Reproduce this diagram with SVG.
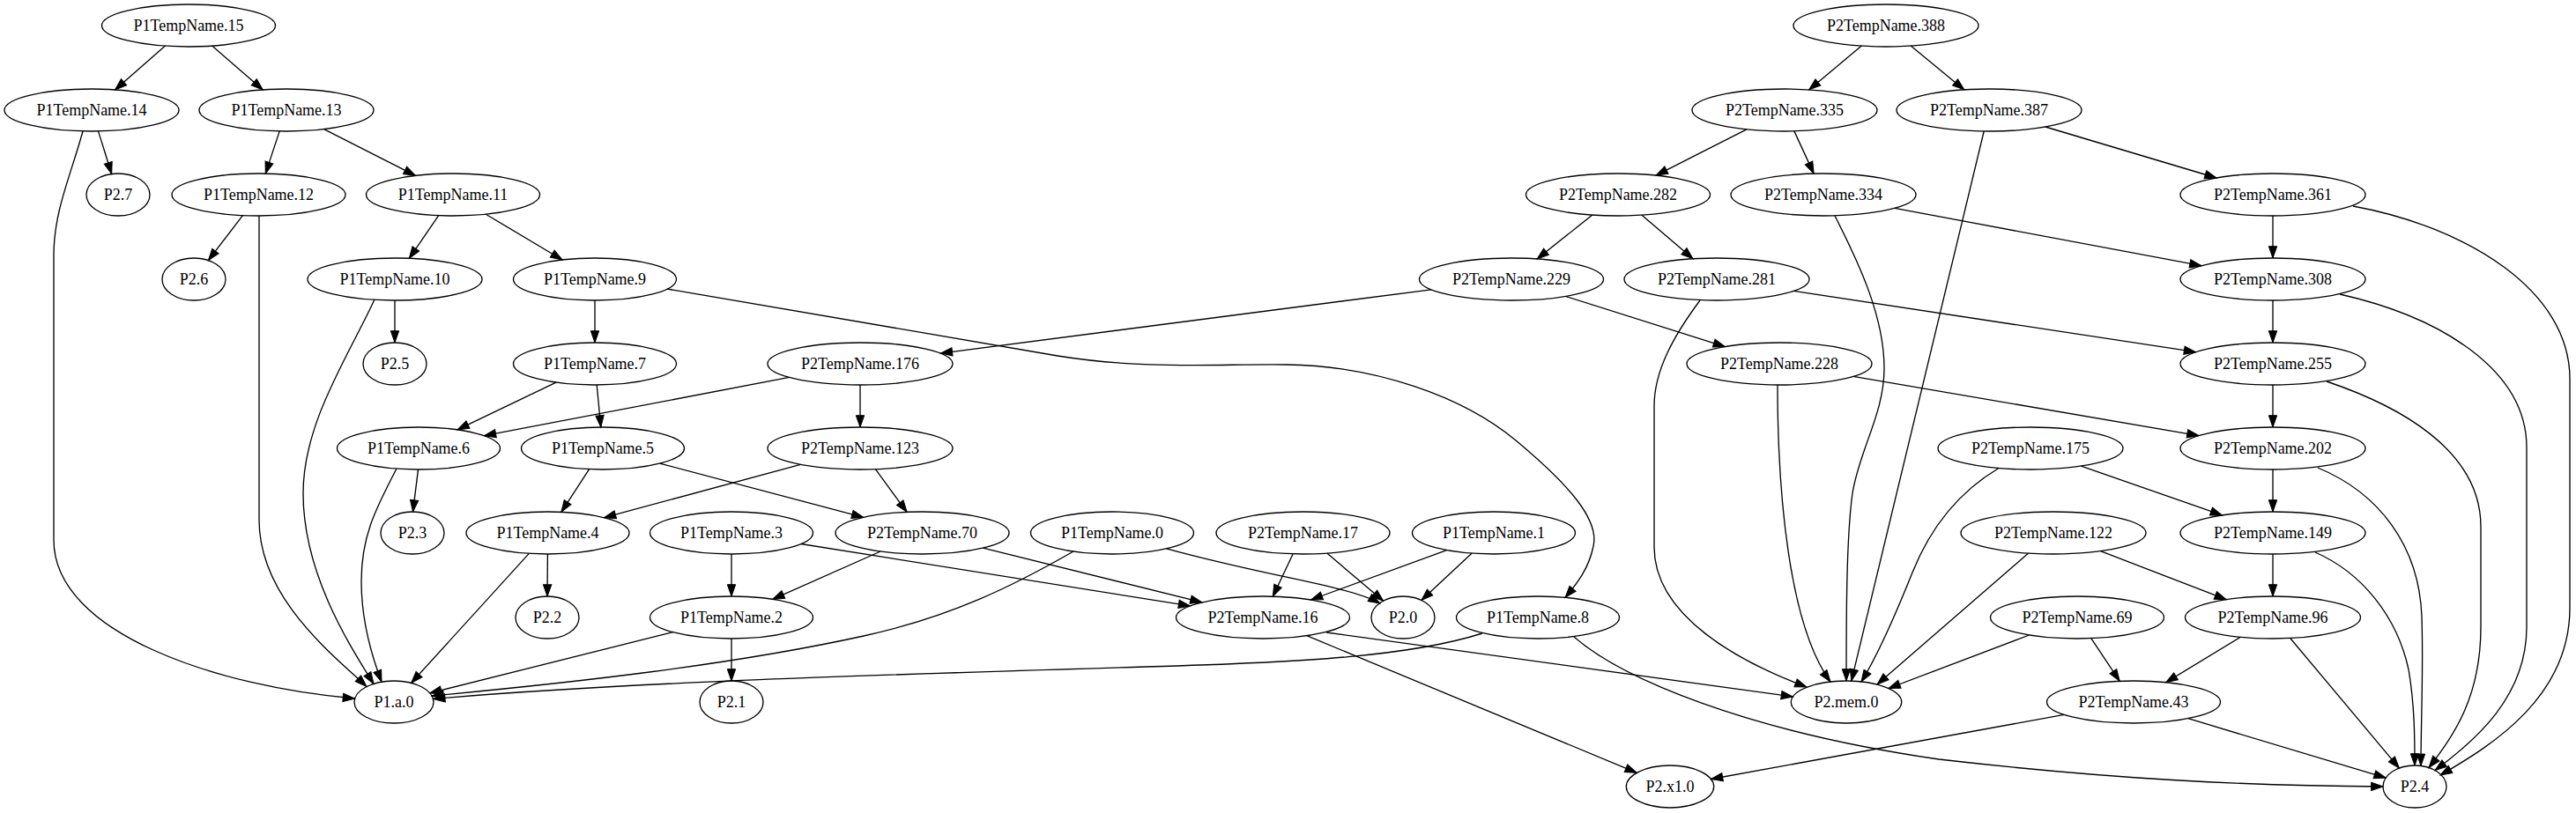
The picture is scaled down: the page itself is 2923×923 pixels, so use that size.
<svg xmlns="http://www.w3.org/2000/svg" width="2923" height="923" viewBox="0 0 2923 923">
<style>
.node ellipse{fill:none;stroke:#000;stroke-width:1.33}
.node text{font-family:"Liberation Serif","Times New Roman",serif;font-size:18px;text-anchor:middle;fill:#000}
#edges path{fill:none;stroke:#000;stroke-width:1.33;marker-end:url(#ah)}
</style>
<defs>
<marker id="ah" markerUnits="userSpaceOnUse" markerWidth="15" markerHeight="11" refX="13.3" refY="4.67" orient="auto" overflow="visible">
<path d="M0,0 L13.3,4.67 L0,9.33 Z" fill="#000" stroke="#000" stroke-width="1"/>
</marker>
</defs>
<rect x="0" y="0" width="2923" height="923" fill="#fff"/>
<g id="edges">
<path d="M187.5,52.1 L130.5,101.9"/>
<path d="M240.7,52.1 L298.3,101.9"/>
<path d="M111.5,148.9 L126.7,197.5"/>
<path d="M94,149 C80,200 61,240 61,290 L61,613 C61,720 250,780 402.5,793"/>
<path d="M317.2,148.9 L301.3,197.1"/>
<path d="M367.6,146.7 L471.4,199.4"/>
<path d="M275.4,244.6 L236.4,295.6"/>
<path d="M294,245 L294,590 C294,680 380,745 416,779.5"/>
<path d="M497.7,244.7 L464.3,293.3"/>
<path d="M551.3,243.2 L638.1,295"/>
<path d="M448,341 L448,389"/>
<path d="M425,340 C395,405 344,480 344,560 C344,650 395,730 424,776.4"/>
<path d="M675,341 L675,389"/>
<path d="M757,328 L1200,404 C1300,420 1380,413 1460,414 C1560,415 1660,450 1720,500 C1780,550 1815,590 1808,620 C1803,645 1790,662 1776,678.4"/>
<path d="M631,434.1 L519,487.9"/>
<path d="M677.2,437 L681.8,485"/>
<path d="M895.5,428.4 L549.4,494.7"/>
<path d="M976,437 L976,485"/>
<path d="M474.5,533 L468.5,581"/>
<path d="M450,532 C425,580 410,610 410,660 C410,700 420,740 433,774.2"/>
<path d="M668.6,532.7 L636.9,581.3"/>
<path d="M748.7,526.1 L979.8,587.3"/>
<path d="M908.4,527.3 L685.5,587.7"/>
<path d="M993.4,532.7 L1029.1,581.4"/>
<path d="M621.4,629 L621,677"/>
<path d="M600.3,628.4 L466.6,775.4"/>
<path d="M830,629 L830,677"/>
<path d="M908.8,617.5 L1350.6,687.9"/>
<path d="M999.1,626 L876.7,680.3"/>
<path d="M1115.5,622.1 L1364,683.9"/>
<path d="M1218,626 C1150,665 1080,700 980,722 C830,755 650,775 490,790"/>
<path d="M1323.6,622.9 C1440,655 1530,665 1566,685"/>
<path d="M1467.2,628.8 L1444.3,677.2"/>
<path d="M1505.8,628.1 L1569.7,682.2"/>
<path d="M1641.5,624.6 L1487.5,681"/>
<path d="M1670.2,628.1 L1612.9,681.5"/>
<path d="M763.5,717.7 L487.7,786.8"/>
<path d="M830,725 L830,773"/>
<path d="M1482.8,721.7 L1857.3,877.3"/>
<path d="M1505,718 L2034.5,791"/>
<path d="M1682,719 C1600,745 1480,752 1300,757 C1000,766 700,775 491.7,793.5"/>
<path d="M1786,723 C1840,770 1980,830 2200,862 C2400,885 2550,892 2704,893"/>
<path d="M2112.3,52.1 L2052.7,101.9"/>
<path d="M2168.2,52.1 L2228.8,101.9"/>
<path d="M1981.9,146.9 L1879.1,199.1"/>
<path d="M2035.9,148.9 L2058.1,197.1"/>
<path d="M2251.2,149 L2100.8,773.1"/>
<path d="M2320.9,144 L2515.1,202"/>
<path d="M1806.9,244 L1744.1,294"/>
<path d="M1863,244.2 L1921,293.8"/>
<path d="M2082,245 C2110,300 2138,360 2138,418 C2138,470 2110,510 2102,560 C2095,610 2095,700 2095,773"/>
<path d="M2150,236.3 L2498,301.7"/>
<path d="M2579,245 L2579,293"/>
<path d="M2670,234 C2800,258 2916,330 2916,430 L2916,690 C2916,790 2830,845 2769,880"/>
<path d="M1624,328.8 L1067.3,401.1"/>
<path d="M1776.5,336.4 L1957.4,393.6"/>
<path d="M1929,341 C1900,380 1877,420 1877,461 L1877,621 C1877,700 1975,752 2050,780"/>
<path d="M2035.4,330.3 L2491.6,399.7"/>
<path d="M2579,341 L2579,389"/>
<path d="M2655,334 C2770,360 2867,420 2867,508 L2867,712 C2867,790 2810,840 2763,874.5"/>
<path d="M2017,437 C2017,560 2030,710 2077,774"/>
<path d="M2103,427.4 L2495,494.6"/>
<path d="M2579,437 L2579,485"/>
<path d="M2640,433 C2720,460 2815,510 2815,598 L2815,712 C2815,790 2785,835 2756,871.5"/>
<path d="M2579,533 L2579,581"/>
<path d="M2630,531 C2700,560 2745,620 2748,700 C2750,760 2747,820 2747,869.4"/>
<path d="M2268,531.5 C2220,560 2190,600 2170,650 C2150,700 2130,745 2112,774"/>
<path d="M2361.5,529.1 L2521.5,584.9"/>
<path d="M2579,629 L2579,677"/>
<path d="M2627,627 C2680,650 2720,700 2733,760 C2740,800 2740,840 2740,869"/>
<path d="M2301.7,628.1 L2130,777"/>
<path d="M2383.5,625.6 L2526.2,680.7"/>
<path d="M2302.5,721 L2143,781.5"/>
<path d="M2372.8,724.7 L2405.2,773.3"/>
<path d="M2542.3,723.3 L2457.7,774.7"/>
<path d="M2598.7,724.5 L2722.4,872.1"/>
<path d="M2342.2,811.4 L1941.5,884.5"/>
<path d="M2483,815.7 L2707.2,883.1"/>
</g>
<g id="n_P1TempName_15" class="node"><ellipse cx="214" cy="29" rx="98.5" ry="24"/><text x="214" y="35">P1TempName.15</text></g>
<g id="n_P1TempName_14" class="node"><ellipse cx="104" cy="125" rx="99" ry="24"/><text x="104" y="131">P1TempName.14</text></g>
<g id="n_P1TempName_13" class="node"><ellipse cx="325" cy="125" rx="99" ry="24"/><text x="325" y="131">P1TempName.13</text></g>
<g id="n_P2_7" class="node"><ellipse cx="134" cy="221" rx="36" ry="24"/><text x="134" y="227">P2.7</text></g>
<g id="n_P1TempName_12" class="node"><ellipse cx="293.5" cy="221" rx="98.5" ry="24"/><text x="293.5" y="227">P1TempName.12</text></g>
<g id="n_P1TempName_11" class="node"><ellipse cx="514" cy="221" rx="98.5" ry="24"/><text x="514" y="227">P1TempName.11</text></g>
<g id="n_P2_6" class="node"><ellipse cx="220" cy="317" rx="36" ry="24"/><text x="220" y="323">P2.6</text></g>
<g id="n_P1TempName_10" class="node"><ellipse cx="448" cy="317" rx="99" ry="24"/><text x="448" y="323">P1TempName.10</text></g>
<g id="n_P1TempName_9" class="node"><ellipse cx="675" cy="317" rx="92.5" ry="24"/><text x="675" y="323">P1TempName.9</text></g>
<g id="n_P2_5" class="node"><ellipse cx="448" cy="413" rx="36" ry="24"/><text x="448" y="419">P2.5</text></g>
<g id="n_P1TempName_7" class="node"><ellipse cx="675" cy="413" rx="92.5" ry="24"/><text x="675" y="419">P1TempName.7</text></g>
<g id="n_P2TempName_176" class="node"><ellipse cx="976" cy="413" rx="105" ry="24"/><text x="976" y="419">P2TempName.176</text></g>
<g id="n_P1TempName_6" class="node"><ellipse cx="475" cy="509" rx="92.5" ry="24"/><text x="475" y="515">P1TempName.6</text></g>
<g id="n_P1TempName_5" class="node"><ellipse cx="684" cy="509" rx="92.5" ry="24"/><text x="684" y="515">P1TempName.5</text></g>
<g id="n_P2TempName_123" class="node"><ellipse cx="976" cy="509" rx="105" ry="24"/><text x="976" y="515">P2TempName.123</text></g>
<g id="n_P2_3" class="node"><ellipse cx="468" cy="605" rx="36" ry="24"/><text x="468" y="611">P2.3</text></g>
<g id="n_P1TempName_4" class="node"><ellipse cx="621.5" cy="605" rx="92.5" ry="24"/><text x="621.5" y="611">P1TempName.4</text></g>
<g id="n_P1TempName_3" class="node"><ellipse cx="830" cy="605" rx="92.5" ry="24"/><text x="830" y="611">P1TempName.3</text></g>
<g id="n_P2TempName_70" class="node"><ellipse cx="1046.5" cy="605" rx="98.5" ry="24"/><text x="1046.5" y="611">P2TempName.70</text></g>
<g id="n_P1TempName_0" class="node"><ellipse cx="1262" cy="605" rx="92.5" ry="24"/><text x="1262" y="611">P1TempName.0</text></g>
<g id="n_P2TempName_17" class="node"><ellipse cx="1478.5" cy="605" rx="98.5" ry="24"/><text x="1478.5" y="611">P2TempName.17</text></g>
<g id="n_P1TempName_1" class="node"><ellipse cx="1695" cy="605" rx="92.5" ry="24"/><text x="1695" y="611">P1TempName.1</text></g>
<g id="n_P2_2" class="node"><ellipse cx="621" cy="701" rx="36" ry="24"/><text x="621" y="707">P2.2</text></g>
<g id="n_P1TempName_2" class="node"><ellipse cx="830" cy="701" rx="92.5" ry="24"/><text x="830" y="707">P1TempName.2</text></g>
<g id="n_P2TempName_16" class="node"><ellipse cx="1433" cy="701" rx="98.5" ry="24"/><text x="1433" y="707">P2TempName.16</text></g>
<g id="n_P2_0" class="node"><ellipse cx="1592" cy="701" rx="36" ry="24"/><text x="1592" y="707">P2.0</text></g>
<g id="n_P1TempName_8" class="node"><ellipse cx="1745" cy="701" rx="92.5" ry="24"/><text x="1745" y="707">P1TempName.8</text></g>
<g id="n_P1_a_0" class="node"><ellipse cx="447" cy="797" rx="45" ry="24"/><text x="447" y="803">P1.a.0</text></g>
<g id="n_P2_1" class="node"><ellipse cx="830" cy="797" rx="36" ry="24"/><text x="830" y="803">P2.1</text></g>
<g id="n_P2TempName_388" class="node"><ellipse cx="2140" cy="29" rx="105" ry="24"/><text x="2140" y="35">P2TempName.388</text></g>
<g id="n_P2TempName_335" class="node"><ellipse cx="2025" cy="125" rx="105" ry="24"/><text x="2025" y="131">P2TempName.335</text></g>
<g id="n_P2TempName_387" class="node"><ellipse cx="2257" cy="125" rx="105" ry="24"/><text x="2257" y="131">P2TempName.387</text></g>
<g id="n_P2TempName_282" class="node"><ellipse cx="1836" cy="221" rx="104.5" ry="24"/><text x="1836" y="227">P2TempName.282</text></g>
<g id="n_P2TempName_334" class="node"><ellipse cx="2069" cy="221" rx="105" ry="24"/><text x="2069" y="227">P2TempName.334</text></g>
<g id="n_P2TempName_361" class="node"><ellipse cx="2579" cy="221" rx="105" ry="24"/><text x="2579" y="227">P2TempName.361</text></g>
<g id="n_P2TempName_229" class="node"><ellipse cx="1715" cy="317" rx="104.5" ry="24"/><text x="1715" y="323">P2TempName.229</text></g>
<g id="n_P2TempName_281" class="node"><ellipse cx="1948" cy="317" rx="105" ry="24"/><text x="1948" y="323">P2TempName.281</text></g>
<g id="n_P2TempName_308" class="node"><ellipse cx="2579" cy="317" rx="105" ry="24"/><text x="2579" y="323">P2TempName.308</text></g>
<g id="n_P2TempName_228" class="node"><ellipse cx="2019" cy="413" rx="105" ry="24"/><text x="2019" y="419">P2TempName.228</text></g>
<g id="n_P2TempName_255" class="node"><ellipse cx="2579" cy="413" rx="105" ry="24"/><text x="2579" y="419">P2TempName.255</text></g>
<g id="n_P2TempName_175" class="node"><ellipse cx="2304" cy="509" rx="105" ry="24"/><text x="2304" y="515">P2TempName.175</text></g>
<g id="n_P2TempName_202" class="node"><ellipse cx="2579" cy="509" rx="105" ry="24"/><text x="2579" y="515">P2TempName.202</text></g>
<g id="n_P2TempName_122" class="node"><ellipse cx="2330" cy="605" rx="105" ry="24"/><text x="2330" y="611">P2TempName.122</text></g>
<g id="n_P2TempName_149" class="node"><ellipse cx="2579" cy="605" rx="105" ry="24"/><text x="2579" y="611">P2TempName.149</text></g>
<g id="n_P2TempName_69" class="node"><ellipse cx="2357" cy="701" rx="98.5" ry="24"/><text x="2357" y="707">P2TempName.69</text></g>
<g id="n_P2TempName_96" class="node"><ellipse cx="2579" cy="701" rx="99.5" ry="24"/><text x="2579" y="707">P2TempName.96</text></g>
<g id="n_P2_mem_0" class="node"><ellipse cx="2095" cy="797" rx="62.7" ry="24"/><text x="2095" y="803">P2.mem.0</text></g>
<g id="n_P2TempName_43" class="node"><ellipse cx="2421" cy="797" rx="98.5" ry="24"/><text x="2421" y="803">P2TempName.43</text></g>
<g id="n_P2_x1_0" class="node"><ellipse cx="1895" cy="893" rx="49.7" ry="24"/><text x="1895" y="899">P2.x1.0</text></g>
<g id="n_P2_4" class="node"><ellipse cx="2740" cy="893" rx="36" ry="24"/><text x="2740" y="899">P2.4</text></g>
</svg>
